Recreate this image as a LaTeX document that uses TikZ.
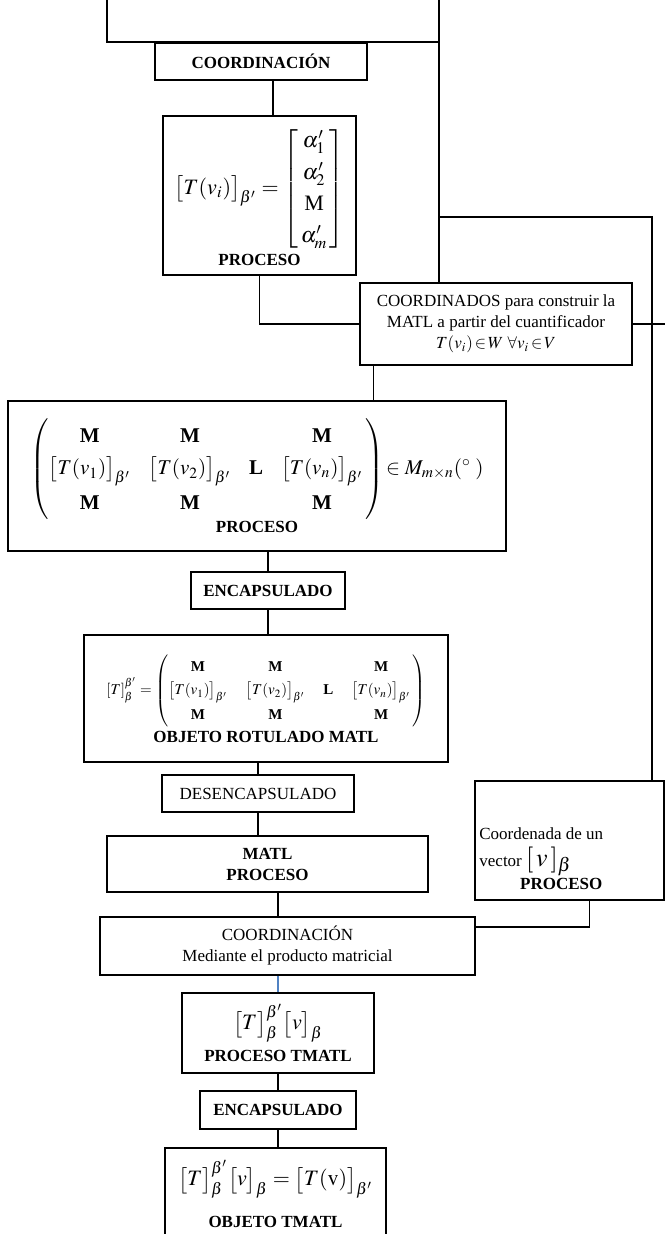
\documentclass[tikz,border=0pt]{standalone}
\usepackage{amsmath}
\usepackage{mathptmx}
\usepackage{fontspec}
\setmainfont{Liberation Serif}
\usetikzlibrary{positioning, calc}
\definecolor{linkblue}{RGB}{80,130,195}

\begin{document}
\begin{tikzpicture}[x=0.5pt, y=-0.5pt,
        blk/.style={rectangle, draw, line width=0.8pt, align=center, inner sep=1pt},
        wire/.style={line width=0.7pt},
        font=\fontsize{8.5}{10.5}\selectfont
    ]
    \useasboundingbox (0,0) rectangle (665,1234);

    % loose ends
    \coordinate (tl) at (107,0);
    \coordinate (tr) at (439,0);
    \coordinate (rt) at (652,217);
    \coordinate (re) at (665,321);

    \node[blk, minimum width=106pt, minimum height=18.5pt] (coord1) at (261,61.5) {\bfseries COORDINACIÓN};
    \node[blk, minimum width=96.5pt, minimum height=79.5pt] (vecbox) at (259.5,195.5)
        {{\fontsize{11}{13}\selectfont\renewcommand{\arraystretch}{1.22}%
          $\bigl[T(v_i)\bigr]_{\beta'} = \begin{bmatrix} \,\alpha'_1\,\\ \,\alpha'_2\,\\ \textrm{M}\\ \,\alpha'_m\, \end{bmatrix}$}\\
         \bfseries PROCESO};
    \node[blk, minimum width=136pt, minimum height=41pt] (coordos) at (496,324)
        {COORDINADOS para construir la\\ MATL a partir del cuantificador\\ $T(v_i)\!\in\! W\ \forall v_i\!\in\! V$};
    \node[blk, minimum width=249pt, minimum height=75pt] (matbox) at (257,476)
        {{\fontsize{10.5}{12.5}\selectfont\renewcommand{\arraystretch}{1.3}%
          $\left(\begin{array}{@{}c@{\hspace{9pt}}c@{\hspace{9pt}}c@{\hspace{9pt}}c@{}}
            \textbf{M} & \textbf{M} & & \textbf{M}\\
            \bigl[T(v_1)\bigr]_{\beta'} & \bigl[T(v_2)\bigr]_{\beta'} & \textbf{L} & \bigl[T(v_n)\bigr]_{\beta'}\\
            \textbf{M} & \textbf{M} & & \textbf{M}
          \end{array}\,\right)\!\in M_{m\times n}(^{\circ}\;)$}\\
         \bfseries PROCESO};
    \node[blk, minimum width=77pt, minimum height=18.5pt] (encap1) at (268,590.5) {\bfseries ENCAPSULADO};
    \node[blk, minimum width=182pt, minimum height=63.5pt] (objbox) at (266,698.5)
        {{\fontsize{7.5}{9}\selectfont\renewcommand{\arraystretch}{1.3}%
          $[T]^{\beta'}_{\beta} = \left(\begin{array}{@{}c@{\hspace{9pt}}c@{\hspace{9pt}}c@{\hspace{9pt}}c@{}}
            \textbf{M} & \textbf{M} & & \textbf{M}\\
            \bigl[T(v_1)\bigr]_{\beta'} & \bigl[T(v_2)\bigr]_{\beta'} & \textbf{L} & \bigl[T(v_n)\bigr]_{\beta'}\\
            \textbf{M} & \textbf{M} & & \textbf{M}
          \end{array}\,\right)$}\\[1pt]
         \bfseries OBJETO ROTULADO MATL};
    \node[blk, minimum width=96pt, minimum height=18.5pt] (desencap) at (258,793.5) {DESENCAPSULADO};
    \node[blk, minimum width=160.5pt, minimum height=28pt] (matl) at (267.5,864) {\bfseries MATL\\ \bfseries PROCESO};
    \node[blk, minimum width=94.5pt, minimum height=59.5pt] (coordv) at (569.5,840.5) {};
    \node[align=left, anchor=south west, inner sep=0pt] (coordvtxt) at (479,890)
        {Coordenada de un\\[3pt] vector {\fontsize{13}{13}\selectfont$[\,v\,]_{\beta}$}\\[1pt] \hspace*{2.4em}\bfseries PROCESO};
    \node[blk, minimum width=187.5pt, minimum height=29pt] (coord2) at (287.5,946)
        {COORDINACIÓN\\ Mediante el producto matricial};
    \node[blk, minimum width=96pt, minimum height=40pt] (tmatl) at (278,1033)
        {{\fontsize{11}{13}\selectfont$\bigl[T\bigr]^{\beta'}_{\beta}\bigl[v\bigr]_{\beta}$}\\[3pt] \bfseries PROCESO TMATL};
    \node[blk, minimum width=78pt, minimum height=19pt] (encap2) at (278,1110) {\bfseries ENCAPSULADO};
    \node[blk, minimum width=110.5pt, minimum height=46pt] (final) at (275.5,1194)
        {{\fontsize{11}{13}\selectfont$\bigl[T\bigr]^{\beta'}_{\beta}\bigl[v\bigr]_{\beta} = \bigl[T(\mathrm{v})\bigr]_{\beta'}$}\\[8pt] \bfseries OBJETO TMATL};

    \draw[wire] (tl) |- (tr |- coord1.north);
    \draw[wire] (tr) -- (tr |- coordos.north);
    \draw[wire] ([xshift=6pt]coord1.south) -- ([xshift=6pt]coord1.south |- vecbox.north);
    \draw[wire] (vecbox.south) |- (coordos.west);
    \draw[wire] (tr |- rt) -- (rt) -- (rt |- coordv.north);
    \draw[wire] (coordos.east) -- (coordos.east -| re);
    \draw[wire] ([xshift=7pt]coordos.south west) -- ([xshift=7pt]coordos.south west |- matbox.north);
    \draw[wire] (encap1.north |- matbox.south) -- (encap1.north);
    \draw[wire] (encap1.south) -- (encap1.south |- objbox.north);
    \draw[wire] (desencap.north |- objbox.south) -- (desencap.north);
    \draw[wire] (desencap.south) -- (desencap.south |- matl.north);
    \draw[wire] (tmatl.north |- matl.south) -- (tmatl.north |- coord2.north);
    \draw[wire, linkblue] (tmatl.north |- coord2.south) -- (tmatl.north);
    \draw[wire] (tmatl.south) -- (encap2.north);
    \draw[wire] (encap2.south) -- (encap2.south |- final.north);
    \draw[wire] ([xshift=10pt]coordv.south) |- ([yshift=9.5pt]coord2.east);
\end{tikzpicture}
\end{document}
